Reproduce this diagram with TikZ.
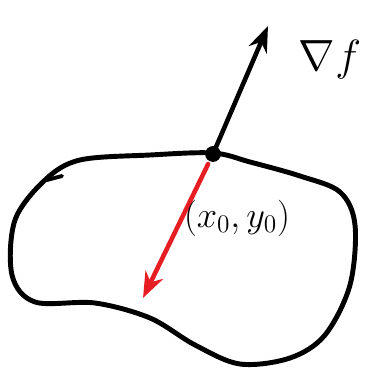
\documentclass[tikz,border=0pt]{standalone}
\usepackage{amsmath,amssymb}
\usetikzlibrary{arrows.meta,calc}
\definecolor{gradred}{RGB}{230,30,35}

\begin{document}
\begin{tikzpicture}[x=0.02cm,y=-0.02cm,>=Stealth,line cap=round,line join=round]
 \useasboundingbox (0,0) rectangle (364,374);
 \coordinate (p) at (213,154);
 \coordinate (tip) at (268,26);
 \coordinate (dn) at (143,298);
 % region boundary
 \draw[line width=2.8pt]
  plot[smooth cycle,tension=0.55] coordinates {(45,180) (80,160) (150,155) (213,153)
   (250,162) (300,176) (340,192) (355,225) (350,285) (325,335) (290,358)
   (240,364) (195,345) (150,318) (95,303) (35,302) (12,275) (15,220)};
 \draw[line width=2.2pt] (47,180)--(62,176);
 \draw[->,line width=2.6pt] (p)--(tip);
 \draw[->,gradred,line width=2.6pt] ($(p)!0.07!(dn)$)--(dn);
 \fill (p) circle(4.5pt);
 \node[font=\Huge] (grad) at (330,60) {$\nabla f$};
 \node[font=\huge] (pt) at (237,218) {$(x_0,y_0)$};
\end{tikzpicture}
\end{document}
